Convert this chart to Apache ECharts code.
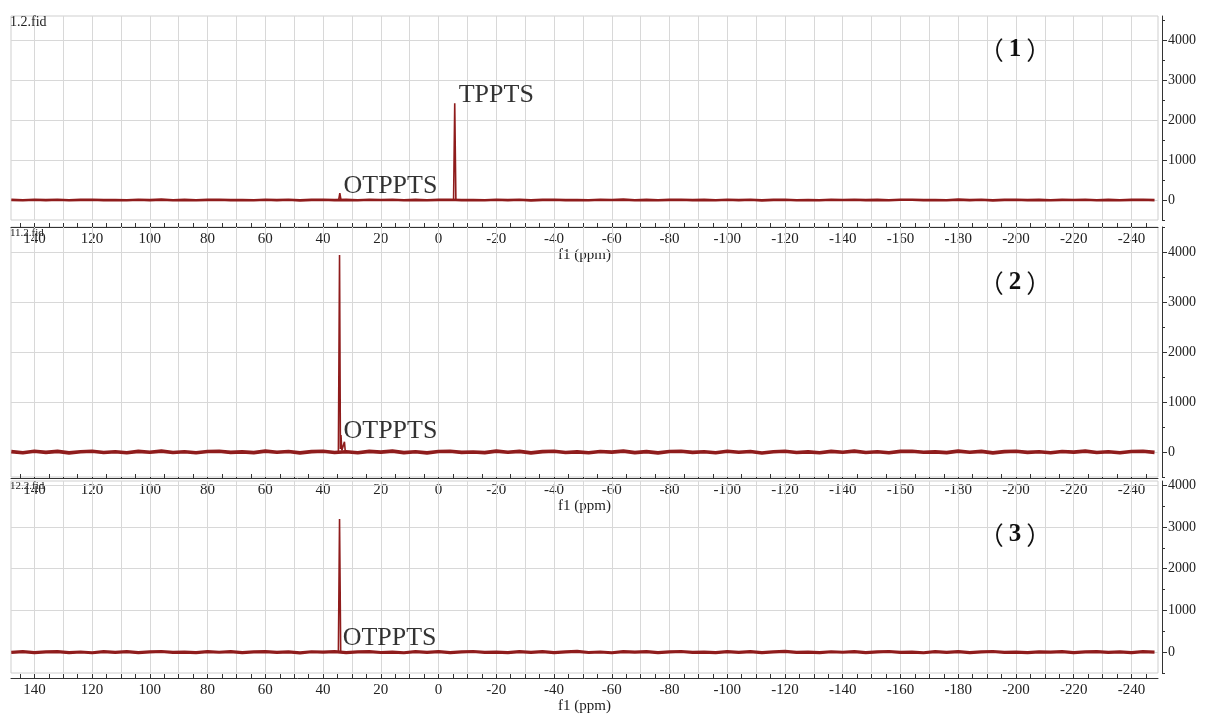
<!DOCTYPE html>
<html><head><meta charset="utf-8">
<script src="https://cdn.jsdelivr.net/npm/echarts@6/dist/echarts.min.js"></script>
<style>html,body{margin:0;padding:0;background:#fff}#c{width:1205px;height:715px}</style>
</head><body><div id="c"></div>
<script>
// ---- data ----
const xLabelTicks = [140,120,100,80,60,40,20,0,-20,-40,-60,-80,-100,-120,-140,-160,-180,-200,-220,-240];
const xMinorTicks = [145,140,135,130,125,120,115,110,105,100,95,90,85,80,75,70,65,60,55,50,45,40,35,30,25,20,15,10,5,0,-5,-10,-15,-20,-25,-30,-35,-40,-45,-50,-55,-60,-65,-70,-75,-80,-85,-90,-95,-100,-105,-110,-115,-120,-125,-130,-135,-140,-145,-150,-155,-160,-165,-170,-175,-180,-185,-190,-195,-200,-205,-210,-215,-220,-225,-230,-235,-240,-245];
const gridPpm = [140,130,120,110,100,90,80,70,60,50,40,30,20,10,0,-10,-20,-30,-40,-50,-60,-70,-80,-90,-100,-110,-120,-130,-140,-150,-160,-170,-180,-190,-200,-210,-220,-230,-240];
const yLabelTicks = [0,1000,2000,3000,4000];
const yMinorTicks = [-500,0,500,1000,1500,2000,2500,3000,3500,4000,4500];
const yGridValues = [0,1000,2000,3000,4000];
const noiseStartPpm = 148, noiseStepPpm = 4;
const noise1 = [3,-6,8,-2,5,-8,4,7,-4,1,-7,6,-2,9,-5,3,-8,4,7,-3,1,-6,8,-2,5,-9,3,6,-4,2,-7,5,-1,8,-5,2,-8,4,7,-3,0,-6,8,-2,6,-9,3,6,-4,1,-7,5,-1,9,-5,3,-8,4,6,-4,2,-7,7,-2,5,-9,4,6,-5,1,-6,6,-1,8,-4,3,-8,5,7,-3,1,-5,9,-3,5,-9,2,7,-4,2,-7,4,0,8,-6,3,-8,4,6,-2];
const noise2 = [8,-14,16,-7,12,-17,5,15,-11,4,-16,13,-5,18,-10,6,-15,11,16,-8,2,-12,17,-6,11,-18,8,14,-9,4,-14,12,-3,17,-12,6,-17,9,15,-7,1,-13,18,-4,13,-18,7,16,-10,3,-16,11,-2,17,-12,8,-17,10,14,-8,4,-15,16,-6,11,-19,6,14,-10,2,-14,12,-4,18,-9,5,-16,12,15,-6,3,-12,17,-5,13,-18,7,14,-8,5,-15,10,-2,17,-11,6,-16,10,16,-7];
const noise3 = [-6,11,-14,5,13,-10,3,-15,12,-4,10,-12,6,15,-8,2,-14,11,-3,13,-10,5,14,-7,4,-16,9,-2,12,-11,6,14,-9,2,-15,12,-5,13,-10,4,15,-8,1,-13,10,-4,14,-11,6,16,-9,3,-15,10,-2,13,-12,7,15,-6,1,-14,11,-4,12,-10,4,16,-8,2,-13,9,-3,14,-12,8,15,-6,0,-15,11,-5,13,-10,5,15,-7,2,-13,8,-2,12,-11,6,14,-8,4,-14,10,-1];
const peaks1 = [[34.6,0],[34.2,170],[33.8,0],null,[-5.2,0],[-5.6,2420],[-6.0,0]];
const peaks2 = [[34.7,0],[34.3,3940],[34.0,60],[33.8,340],[33.5,30],[32.9,40],[32.6,206],[32.3,0]];
const peaks3 = [[34.7,0],[34.3,3190],[33.9,0]];
const peakLabels1 = [[-6.8,2625,'TPPTS'],[33.1,350,'OTPPTS']];
const peakLabels2 = [[33.1,420,'OTPPTS']];
const peakLabels3 = [[33.4,325,'OTPPTS']];
const panelLabels = ['1','2','3'];
const fidNames = ['1.2.fid','11.2.fid','12.2.fid'];
const yMax = [4600,4500,4100];

// ---- layout ----
const grids = [
  {left:11, right:47, top:16, height:204},
  {left:11, right:47, top:227, height:250},
  {left:11, right:47, top:481, height:198}
];
const xOffsets = [7,1,5];
const panelLabelY = [50,283,535];
const fidY = [15,228,481];
const fidSize = [14,11,11];
const baseWidth = [2.6,3.6,3.2];
const SERIF = '"Liberation Serif","Times New Roman",serif';
const RED = '#8f1c1c';

function buildBaseline(noise){
  return noise.map((v,i)=>[noiseStartPpm - i*noiseStepPpm, v]);
}
const baselines = [buildBaseline(noise1), buildBaseline(noise2), buildBaseline(noise3)];
const peakSets = [peaks1, peaks2, peaks3];
const labelSets = [peakLabels1, peakLabels2, peakLabels3];

const xAxes=[], yAxes=[], series=[], graphics=[];
for (let i=0;i<3;i++){
  xAxes.push({
    gridIndex:i, type:'value', inverse:true, min:-249.2, max:148.1,
    position:'bottom', offset:xOffsets[i],
    axisLine:{show:true, onZero:false, lineStyle:{color:'#333',width:1}},
    axisTick:{show:true, inside:true, length:4, customValues:xMinorTicks, lineStyle:{color:'#333'}},
    axisLabel:{customValues:xLabelTicks, fontFamily:SERIF, fontSize:15, color:'#222', margin:5},
    splitLine:{show:false},
    name:'f1 (ppm)', nameLocation:'middle', nameGap:21, nameMoveOverlap:false,
    nameTextStyle:{fontFamily:SERIF, fontSize:15, color:'#222'}
  });
  yAxes.push({
    gridIndex:i, type:'value', position:'right', offset:4, min:-500, max:yMax[i], interval:500,
    axisLine:{show:true, onZero:false, lineStyle:{color:'#333'}},
    axisTick:{show:true, length:5, customValues:yLabelTicks, lineStyle:{color:'#333'}},
    axisLabel:{customValues:yLabelTicks, formatter:v=>String(v), fontFamily:SERIF, fontSize:14, color:'#222', margin:6},
    splitLine:{show:false}
  });
}
for (let i=0;i<3;i++){
  yAxes.push({
    gridIndex:i, type:'value', position:'right', offset:4, min:-500, max:yMax[i], interval:500,
    axisLine:{show:false, onZero:false},
    axisTick:{show:true, length:3, customValues:yMinorTicks, lineStyle:{color:'#333'}},
    axisLabel:{show:false}, splitLine:{show:false}
  });
}
for (let i=0;i<3;i++){
  series.push({
    type:'line', xAxisIndex:i, yAxisIndex:i, data:baselines[i], symbol:'none',
    lineStyle:{color:RED, width:baseWidth[i]}, z:3, silent:true,
    markLine:{
      silent:true, symbol:'none', z:1, animation:false,
      label:{show:false},
      lineStyle:{color:'#d8d8d8', type:'solid', width:1},
      data: gridPpm.map(v=>({xAxis:v})).concat(yGridValues.map(v=>({yAxis:v})))
    }
  });
  series.push({
    type:'line', xAxisIndex:i, yAxisIndex:i, data:peakSets[i], symbol:'none', connectNulls:false,
    lineStyle:{color:RED, width:1.6}, z:4, silent:true
  });
  series.push({
    type:'scatter', xAxisIndex:i, yAxisIndex:i, symbolSize:1, itemStyle:{color:'rgba(0,0,0,0)'},
    data:labelSets[i], z:5, silent:true,
    label:{show:true, position:'right', distance:0, formatter:p=>p.data[2],
      fontFamily:SERIF, fontSize:26, color:'#000'}
  });
  graphics.push({
    type:'text', x:1015, y:panelLabelY[i], z:10,
    style:{
      text:'{p|（}{n|'+panelLabels[i]+'}{p|）}', align:'center', verticalAlign:'middle',
      rich:{
        p:{fontFamily:'"Noto Sans CJK SC"', fontSize:25, fill:'#111', padding:[0,2,0,2]},
        n:{fontFamily:SERIF, fontSize:25, fontWeight:'bold', fill:'#111', padding:[0,3,0,3]}
      }
    }
  });
  graphics.push({
    type:'text', x:10, y:fidY[i], z:10,
    style:{text:fidNames[i], fontFamily:SERIF, fontSize:fidSize[i], fill:'#222', verticalAlign:'top'}
  });
}

const chart = echarts.init(document.getElementById('c'));
chart.setOption({
  animation:false,
  backgroundColor:'#fff',
  grid: grids.map(g=>Object.assign({show:true, borderColor:'#cfcfcf', borderWidth:1, backgroundColor:'transparent'},g)),
  xAxis:xAxes, yAxis:yAxes, series:series, graphic:graphics
});
</script></body></html>
